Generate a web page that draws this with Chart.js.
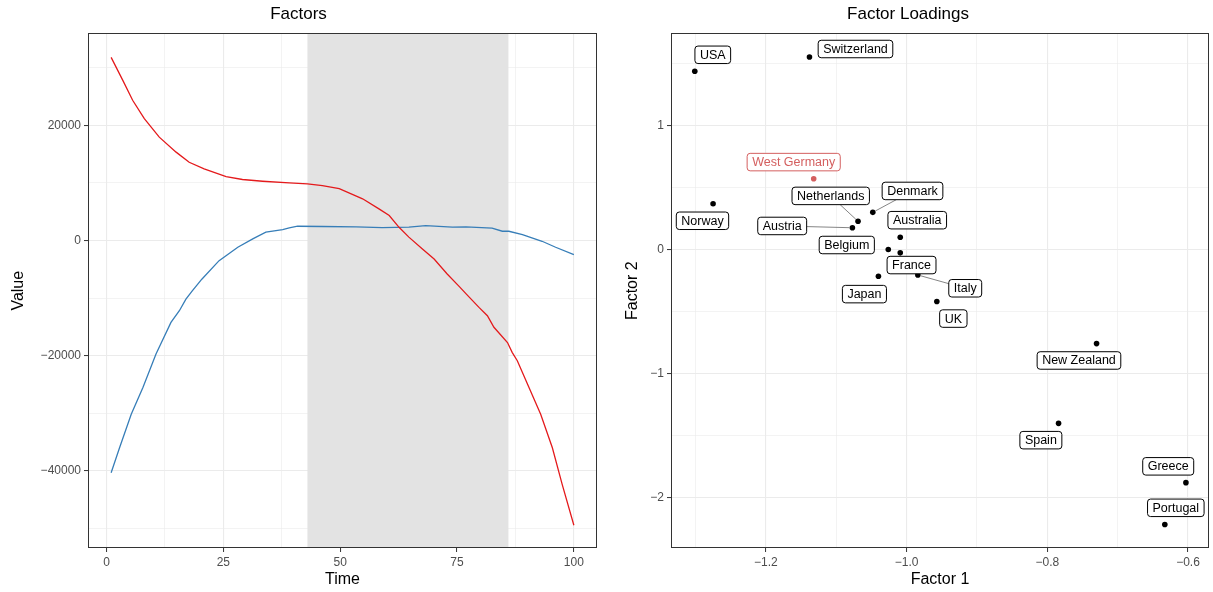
<!DOCTYPE html>
<html>
<head>
<meta charset="utf-8">
<script src="https://cdn.jsdelivr.net/npm/chart.js@4.4.0/dist/chart.umd.min.js"></script>
<style>
  body { margin: 0; background: #fff; }
  #wrap { position: relative; width: 1213px; height: 592px; }
  .box { position: absolute; top: 0; height: 592px; }
</style>
</head>
<body>
<div id="wrap">
  <div class="box" style="left:0;width:606px"><canvas id="factors"></canvas></div>
  <div class="box" style="left:606px;width:607px"><canvas id="loadings"></canvas></div>
</div>
<script>
// left panel: the two factor series
const redTime  = [1, 3.5, 5.6, 8.1, 11.3, 14.9, 17.7, 20.9, 25.6, 29.1, 33.4, 39.1, 43, 46.2, 49.8, 54.8, 58.3, 60.5, 62.6, 64.7, 67.6, 70.1, 72.9, 75.4, 77, 79.7, 81.5, 82.9, 85.8, 86.8, 87.9, 90.4, 92.9, 95.4, 97.5, 100];
const redValue = [31800, 27800, 24350, 21150, 17950, 15350, 13600, 12450, 11100, 10600, 10300, 10000, 9850, 9550, 9000, 7250, 5500, 4350, 2300, 600, -1450, -3200, -5800, -7900, -9300, -11600, -13050, -15050, -17700, -19400, -20850, -25500, -30150, -35950, -42300, -49400];
const blueTime  = [1, 2.8, 5.3, 7.8, 10.6, 13.8, 15.6, 17, 18.4, 20.4, 24.1, 28.1, 31.3, 34.1, 37.7, 39.1, 40.9, 46.2, 53.4, 59, 64.7, 68.3, 74, 76.9, 82.5, 84.7, 86.1, 89, 93.2, 96.1, 100];
const blueValue = [-40300, -35950, -30150, -25500, -19700, -14200, -12170, -10150, -8700, -6700, -3480, -1160, 290, 1450, 1910, 2200, 2490, 2440, 2380, 2260, 2320, 2610, 2320, 2380, 2150, 1620, 1620, 1040, -120, -1160, -2440];
const shadeStart = 43;
const shadeEnd = 86;

// right panel: factor loadings
const countries = ['USA', 'Switzerland', 'West Germany', 'Norway', 'Netherlands', 'Denmark', 'Austria', 'Australia', 'Belgium', 'France', 'Japan', 'Italy', 'UK', 'New Zealand', 'Spain', 'Greece', 'Portugal'];
const factor1 = [-1.301, -1.138, -1.132, -1.275, -1.069, -1.048, -1.077, -1.009, -1.026, -1.009, -1.040, -0.984, -0.957, -0.730, -0.784, -0.603, -0.633];
const factor2 = [1.434, 1.549, 0.569, 0.368, 0.227, 0.299, 0.175, 0.099, 0.000, -0.027, -0.215, -0.205, -0.419, -0.757, -1.399, -1.876, -2.213];
const highlight = 'West Germany';

// label placement: pixel offset of each label box from its point, and leader lines
const labelDx = [18, 46, -20, -10.6, -27.3, 39.7, -70.2, 17, -41.5, 11.3, -14, 47.4, 16.5, -17.6, -17.7, -17.7, 11];
const labelDy = [-16.5, -8, -16.7, 17, -25.4, -21.4, -1.8, -17, -4.5, 12.2, 17.9, 13.3, 17, 16.9, 16.8, -16.3, -16.7];
const labelLine = ['Netherlands', 'Denmark', 'Austria', 'Italy'];

const FONT = '"Liberation Sans", Arial, Helvetica, sans-serif';
Chart.defaults.font.family = FONT;
Chart.defaults.animation = false;

const tickGrey = '#4d4d4d';
const gridGrey = '#ebebeb';
const redColor = '#e41a1c';
const blueColor = '#377eb8';
const hlColor = '#d45f5f';

function minus(s) { return String(s).replace('-', '\u2212'); }
function isMajor(v, step) { return Math.abs(v / step - Math.round(v / step)) < 1e-6; }

function axis(opts) {
  return {
    type: 'linear',
    min: opts.min,
    max: opts.max,
    afterBuildTicks: s => { s.ticks = opts.ticks.map(v => ({ value: v })); },
    afterFit: opts.fit,
    border: { display: false },
    grid: {
      color: gridGrey,
      lineWidth: c => isMajor(c.tick.value, opts.step) ? 1.1 : 0.6,
      drawTicks: true,
      tickLength: 4,
      tickWidth: 1,
      tickColor: c => isMajor(c.tick.value, opts.step) ? '#333' : 'rgba(0,0,0,0)'
    },
    ticks: {
      autoSkip: false,
      maxRotation: 0,
      padding: 3,
      color: tickGrey,
      font: { size: 12 },
      callback: v => isMajor(v, opts.step) ? minus(opts.format(v)) : ''
    },
    title: {
      display: true,
      text: opts.title,
      color: '#000',
      font: { size: 16 },
      padding: opts.titlePad
    }
  };
}

const framePlugin = {
  id: 'frame',
  afterDatasetsDraw(chart) {
    const a = chart.chartArea, ctx = chart.ctx;
    ctx.save();
    ctx.strokeStyle = '#333';
    ctx.lineWidth = 1;
    ctx.strokeRect(Math.round(a.left) + 0.5, Math.round(a.top) + 0.5, Math.round(a.right - a.left) - 1, Math.round(a.bottom - a.top) - 1);
    ctx.restore();
  }
};

const shadePlugin = {
  id: 'shade',
  beforeDatasetsDraw(chart) {
    const x = chart.scales.x, a = chart.chartArea, ctx = chart.ctx;
    const x0 = x.getPixelForValue(shadeStart), x1 = x.getPixelForValue(shadeEnd);
    ctx.save();
    ctx.fillStyle = '#e3e3e3';
    ctx.fillRect(x0, a.top, x1 - x0, a.bottom - a.top);
    ctx.restore();
  }
};

new Chart(document.getElementById('factors'), {
  type: 'line',
  data: {
    datasets: [
      { data: redTime.map((t, i) => ({ x: t, y: redValue[i] })), borderColor: redColor, borderWidth: 1.3, pointRadius: 0, tension: 0 },
      { data: blueTime.map((t, i) => ({ x: t, y: blueValue[i] })), borderColor: blueColor, borderWidth: 1.3, pointRadius: 0, tension: 0 }
    ]
  },
  options: {
    responsive: true,
    maintainAspectRatio: false,
    layout: { padding: { left: 0, right: 9, top: 0, bottom: 0 } },
    plugins: {
      legend: { display: false },
      tooltip: { enabled: false },
      title: { display: true, text: 'Factors', color: '#000', font: { size: 17, weight: 'normal' }, padding: { top: 4, bottom: 9 } }
    },
    scales: {
      x: axis({ min: -3.95, max: 104.95, step: 25, ticks: [0, 12.5, 25, 37.5, 50, 62.5, 75, 87.5, 100],
        format: v => v, title: 'Time', titlePad: { top: 0, bottom: 2.4 }, fit: s => { s.height = 44; } }),
      y: axis({ min: -53356, max: 35958, step: 20000, ticks: [-50000, -40000, -30000, -20000, -10000, 0, 10000, 20000, 30000],
        format: v => v, title: 'Value', titlePad: { top: 8.5, bottom: 0 }, fit: s => { s.width = 88; } })
    }
  },
  plugins: [shadePlugin, framePlugin]
});

const labelPlugin = {
  id: 'labels',
  afterDatasetsDraw(chart) {
    const xs = chart.scales.x, ys = chart.scales.y, ctx = chart.ctx;
    ctx.save();
    ctx.font = '12.5px ' + FONT;
    ctx.textAlign = 'center';
    ctx.textBaseline = 'middle';
    countries.forEach((name, i) => {
      const px = xs.getPixelForValue(factor1[i]);
      const py = ys.getPixelForValue(factor2[i]);
      const cx = px + labelDx[i], cy = py + labelDy[i];
      const w = ctx.measureText(name).width + 10, h = 17.5;
      const col = name === highlight ? hlColor : '#000';
      if (labelLine.includes(name)) {
        const dx = cx - px, dy = cy - py;
        const t = Math.min((w / 2) / Math.abs(dx || 1e-9), (h / 2) / Math.abs(dy || 1e-9));
        const ex = cx - dx * t, ey = cy - dy * t;
        const len = Math.hypot(ex - px, ey - py);
        ctx.strokeStyle = '#666';
        ctx.lineWidth = 0.8;
        ctx.beginPath();
        ctx.moveTo(px + (ex - px) * 3 / len, py + (ey - py) * 3 / len);
        ctx.lineTo(ex, ey);
        ctx.stroke();
      }
      ctx.beginPath();
      ctx.roundRect(cx - w / 2, cy - h / 2, w, h, 3);
      ctx.fillStyle = '#fff';
      ctx.fill();
      ctx.strokeStyle = col;
      ctx.lineWidth = 1;
      ctx.stroke();
      ctx.fillStyle = col;
      ctx.fillText(name, cx, cy + 0.5);
    });
    ctx.restore();
  }
};

new Chart(document.getElementById('loadings'), {
  type: 'scatter',
  data: {
    datasets: [{
      data: factor1.map((v, i) => ({ x: v, y: factor2[i] })),
      pointRadius: 2.8,
      pointBorderWidth: 0,
      pointBackgroundColor: countries.map(c => c === highlight ? hlColor : '#000')
    }]
  },
  options: {
    responsive: true,
    maintainAspectRatio: false,
    layout: { padding: { left: 0, right: 3, top: 0, bottom: 0 } },
    plugins: {
      legend: { display: false },
      tooltip: { enabled: false },
      title: { display: true, text: 'Factor Loadings', color: '#000', font: { size: 17, weight: 'normal' }, padding: { top: 4, bottom: 9 } }
    },
    scales: {
      x: axis({ min: -1.3348, max: -0.5702, step: 0.2, ticks: [-1.3, -1.2, -1.1, -1.0, -0.9, -0.8, -0.7, -0.6],
        format: v => v.toFixed(1), title: 'Factor 1', titlePad: { top: 0, bottom: 2.4 }, fit: s => { s.height = 44; } }),
      y: axis({ min: -2.402, max: 1.739, step: 1, ticks: [-2, -1.5, -1, -0.5, 0, 0.5, 1, 1.5],
        format: v => v.toFixed(0), title: 'Factor 2', titlePad: { top: 17, bottom: 0 }, fit: s => { s.width = 65; } })
    }
  },
  plugins: [framePlugin, labelPlugin]
});
</script>
</body>
</html>
